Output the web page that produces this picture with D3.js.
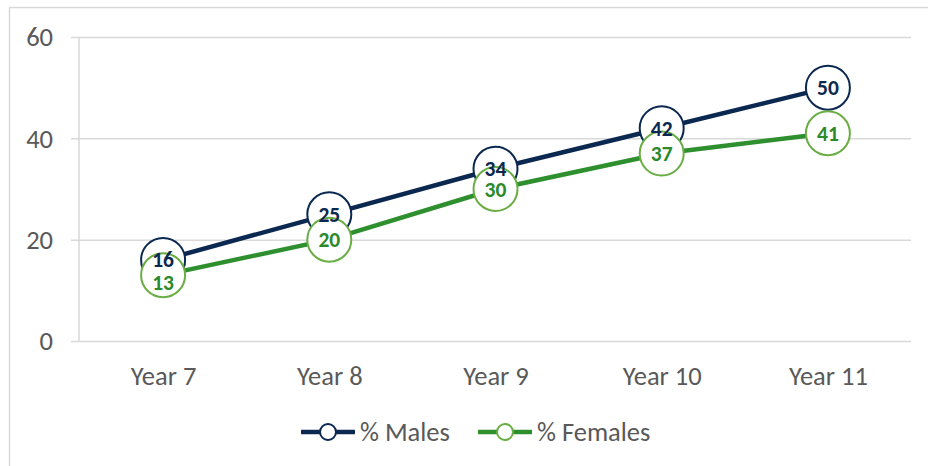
<!DOCTYPE html>
<html>
<head>
<meta charset="utf-8">
<script src="https://cdn.jsdelivr.net/npm/d3@7"></script>
<style>
  html, body { margin: 0; padding: 0; background: #fff; }
  svg { display: block; }
  text { font-family: Carlito, Lato, "Liberation Sans", sans-serif; }
</style>
</head>
<body>
<svg id="chart" width="928" height="466"></svg>
<script>
// Share of pupils by school year
const categories = ["Year 7", "Year 8", "Year 9", "Year 10", "Year 11"];
const males = [16, 25, 34, 42, 50];
const females = [13, 20, 30, 37, 41];
const yTicks = [0, 20, 40, 60];
const seriesNames = ["% Males", "% Females"];

const W = 928, H = 466;
const plot = { left: 80, right: 911, top: 37, bottom: 341 };

const navy = "#0b2850";
const greenLine = "#2e8f2e";
const greenMarker = "#6aad45";
const greenText = "#2b8a2b";
const grid = "#d9d9d9";
const textGray = "#595959";
const axisFont = 26.5;

const svg = d3.select("#chart");

// outer chart frame
svg.append("rect")
  .attr("x", 9.5).attr("y", 7.5)
  .attr("width", W).attr("height", H)
  .attr("fill", "none").attr("stroke", grid).attr("stroke-width", 1.5);

const x = d3.scalePoint().domain(categories).range([plot.left, plot.right]).padding(0.5);
const y = d3.scaleLinear().domain([0, 60]).range([plot.bottom, plot.top]);

// horizontal gridlines
const gy = svg.append("g").attr("transform", `translate(${plot.left - 9},0)`)
  .call(d3.axisRight(y).tickValues(yTicks).tickSize(plot.right - plot.left + 9).tickFormat(""));
gy.select(".domain").remove();
gy.selectAll(".tick line").attr("stroke", grid).attr("stroke-width", 1.5);

// y tick labels
svg.append("g").selectAll("text")
  .data(yTicks).join("text")
  .attr("x", 53).attr("y", d => y(d))
  .attr("dy", "0.35em")
  .attr("text-anchor", "end")
  .attr("font-size", axisFont)
  .attr("fill", textGray)
  .text(d => d);

// vertical axis line
svg.append("line")
  .attr("x1", plot.left - 1).attr("x2", plot.left - 1)
  .attr("y1", plot.top).attr("y2", plot.bottom)
  .attr("stroke", grid).attr("stroke-width", 1.5);

// category labels
const gx = svg.append("g").attr("transform", `translate(0,${plot.bottom})`)
  .call(d3.axisBottom(x).tickSize(0).tickPadding(25));
gx.select(".domain").remove();
gx.selectAll("text").attr("font-size", axisFont).attr("fill", textGray)
  .style("font-family", "Carlito, Lato, 'Liberation Sans', sans-serif");

const line = d3.line().x((d, i) => x(categories[i])).y(d => y(d));

svg.append("path").datum(males).attr("d", line)
  .attr("fill", "none").attr("stroke", navy).attr("stroke-width", 4.5);
svg.append("path").datum(females).attr("d", line)
  .attr("fill", "none").attr("stroke", greenLine).attr("stroke-width", 4.5);

const R = 22;
svg.append("g").selectAll("circle").data(males).join("circle")
  .attr("cx", (d, i) => x(categories[i])).attr("cy", d => y(d)).attr("r", R)
  .attr("fill", "#fff").attr("stroke", navy).attr("stroke-width", 2);
svg.append("g").selectAll("circle").data(females).join("circle")
  .attr("cx", (d, i) => x(categories[i])).attr("cy", d => y(d)).attr("r", R)
  .attr("fill", "#fff").attr("stroke", greenMarker).attr("stroke-width", 2);

// value labels; a female label too close to the male one is nudged down
const labelFont = 21.5;
svg.append("g").selectAll("text").data(males).join("text")
  .attr("x", (d, i) => x(categories[i])).attr("y", d => y(d))
  .attr("dy", "0.35em").attr("text-anchor", "middle")
  .attr("font-size", labelFont).attr("font-weight", "bold").attr("fill", navy)
  .text(d => d);
svg.append("g").selectAll("text").data(females).join("text")
  .attr("x", (d, i) => x(categories[i]))
  .attr("y", (d, i) => {
    const gap = y(d) - y(males[i]);
    return gap < 20 ? y(d) + (23 - gap) : y(d);
  })
  .attr("dy", "0.35em").attr("text-anchor", "middle")
  .attr("font-size", labelFont).attr("font-weight", "bold").attr("fill", greenText)
  .text(d => d);

// legend
const legendY = 432;
const legend = [
  { name: seriesNames[0], line: navy, marker: navy, x0: 301 },
  { name: seriesNames[1], line: greenLine, marker: greenMarker, x0: 478 }
];
const lg = svg.append("g").selectAll("g").data(legend).join("g")
  .attr("transform", d => `translate(${d.x0},${legendY})`);
lg.append("line").attr("x1", 0).attr("x2", 54).attr("y1", 0).attr("y2", 0)
  .attr("stroke", d => d.line).attr("stroke-width", 4.5);
lg.append("circle").attr("cx", 27).attr("cy", 0).attr("r", 8)
  .attr("fill", "#fff").attr("stroke", d => d.marker).attr("stroke-width", 2);
lg.append("text").attr("x", 59).attr("y", 0).attr("dy", "0.35em")
  .attr("font-size", axisFont).attr("fill", textGray)
  .text(d => d.name);
</script>
</body>
</html>
